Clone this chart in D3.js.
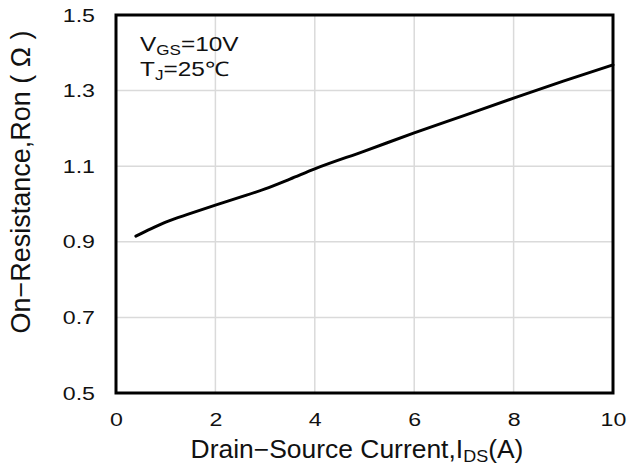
<!DOCTYPE html>
<html><head><meta charset="utf-8">
<script src="https://cdn.jsdelivr.net/npm/d3@7"></script>
<style>body{margin:0;background:#fff}svg{display:block}text{font-family:"Liberation Sans",Arial,sans-serif;fill:#111}</style>
</head><body><svg id="c" width="630" height="468"></svg>
<script>
const currentA = [0.4,0.7,1.0,1.5,2,2.5,3,3.5,4,5,6,7,8,9,10];
const ronOhm  = [0.915,0.934,0.952,0.975,0.997,1.018,1.04,1.066,1.093,1.14,1.188,1.234,1.28,1.325,1.368];
const xTicks = [0,2,4,6,8,10];
const yTicks = [0.5,0.7,0.9,1.1,1.3,1.5];

const svg = d3.select("#c");
const m = {l:116, t:15, r:613, b:393};
const x = d3.scaleLinear().domain([0,10]).range([m.l,m.r]);
const y = d3.scaleLinear().domain([0.5,1.5]).range([m.b,m.t]);
const SX = 1.22;

// grid
svg.append("g").selectAll("line").data(xTicks.slice(1,-1)).join("line")
  .attr("x1",d=>x(d)).attr("x2",d=>x(d)).attr("y1",m.t).attr("y2",m.b)
  .attr("stroke","#dadada").attr("stroke-width",1.5);
svg.append("g").selectAll("line").data(yTicks.slice(1,-1)).join("line")
  .attr("y1",d=>y(d)).attr("y2",d=>y(d)).attr("x1",m.l).attr("x2",m.r)
  .attr("stroke","#dadada").attr("stroke-width",1.5);

// axes (labels only)
const xa = svg.append("g").attr("transform",`translate(0,${m.b})`)
  .call(d3.axisBottom(x).tickValues(xTicks).tickSize(0).tickPadding(20).tickFormat(d3.format("d")));
const ya = svg.append("g").attr("transform",`translate(${m.l},0)`)
  .call(d3.axisLeft(y).tickValues(yTicks).tickSize(0).tickPadding(21).tickFormat(d3.format(".1f")));
[xa,ya].forEach(a=>{a.select(".domain").remove();
  a.selectAll("text").attr("font-size",19).attr("fill","#111").style("font-family","'Liberation Sans',Arial,sans-serif")
   .each(function(){const t=d3.select(this);const xv=+t.attr("x")||0;t.attr("x",xv/SX).attr("transform",`scale(${SX},1)`);});});

// curve
svg.append("path").datum(currentA.map((d,i)=>[d,ronOhm[i]]))
  .attr("d",d3.line().x(d=>x(d[0])).y(d=>y(d[1])).curve(d3.curveMonotoneX))
  .attr("fill","none").attr("stroke","#000").attr("stroke-width",3).attr("stroke-linecap","round");

// frame
svg.append("rect").attr("x",m.l).attr("y",m.t).attr("width",m.r-m.l).attr("height",m.b-m.t)
  .attr("fill","none").attr("stroke","#000").attr("stroke-width",3);

// annotation
const a1 = svg.append("text").attr("transform",`translate(140,51) scale(${SX},1)`).attr("font-size",20);
a1.append("tspan").text("V");
a1.append("tspan").attr("font-size",14).attr("dy",4).text("GS");
a1.append("tspan").attr("dy",-4).text("=10V");
const a2 = svg.append("text").attr("transform",`translate(140,76) scale(${SX},1)`).attr("font-size",20);
a2.append("tspan").text("T");
a2.append("tspan").attr("font-size",14).attr("dy",4).text("J");
a2.append("tspan").attr("dy",-4).text("=25℃");

// axis titles
const xt = svg.append("text").attr("x",357).attr("y",458).attr("text-anchor","middle").attr("font-size",25);
xt.append("tspan").text("Drain−Source Current,I");
xt.append("tspan").attr("font-size",17).attr("dy",4).text("DS");
xt.append("tspan").attr("dy",-4).text("(A)");
function fit(sel,w){const bb=sel.node().getBBox();return w/bb.width;}
{const k=fit(xt,333);xt.attr("transform",`translate(357,0) scale(${k},1) translate(-357,0)`);}
const yt = svg.append("text").attr("transform",`translate(30,182) rotate(-90)`).attr("text-anchor","middle").attr("font-size",27)
  .text("On−Resistance,Ron ( Ω )");
{const k=fit(yt,303);yt.attr("transform",`translate(30,182) rotate(-90) scale(${k},1)`);}
</script></body></html>
